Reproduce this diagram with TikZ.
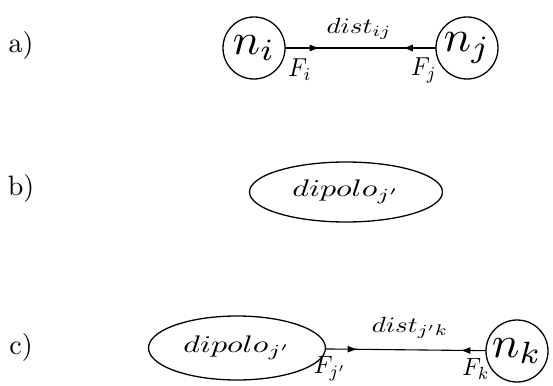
\documentclass[tikz,border=0pt]{standalone}
\usepackage{graphicx}
\usetikzlibrary{arrows.meta,decorations.markings,shapes.geometric}
\newcommand{\bigtxt}[3]{\scalebox{#1}[#2]{#3}}
\begin{document}
\begin{tikzpicture}[x=1pt,y=-1pt,
  every node/.style={inner sep=0pt,outer sep=0pt},
  nodecirc/.style={circle,draw,line width=1.3pt,minimum size=62pt},
  dip/.style={ellipse,draw,line width=1.3pt},
  conn/.style={line width=1.1pt},
  mytip/.tip={Latex[length=10pt,width=7pt]}
]
\useasboundingbox (0,0) rectangle (553,385);
% row labels
\node (la) at (21,46) {\bigtxt{2.8}{2.8}{a)}};
\node (lb) at (21,188) {\bigtxt{2.8}{2.8}{b)}};
\node (lc) at (21,347) {\bigtxt{2.8}{2.8}{c)}};
% row a
\node[nodecirc] (ni) at (254,48) {\bigtxt{4.6}{4.4}{$n_i$}};
\node[nodecirc] (nj) at (467,48) {\bigtxt{4.6}{4.4}{$n_j$}};
\draw[conn,postaction={decorate},decoration={markings,
   mark=at position 0.23 with {\arrow{mytip}},
   mark=at position 0.78 with {\arrowreversed{mytip}}}] (ni) -- (nj);
\node (dij) at (359,29) {\bigtxt{2.7}{2.2}{$dist_{ij}$}};
\node (fi) at (300,70) {\bigtxt{2.4}{2.6}{$F_i$}};
\node (fj) at (424,70) {\bigtxt{2.4}{2.6}{$F_j$}};
% row b
\node[dip,minimum width=193pt,minimum height=60pt] (db) at (346,192) {\bigtxt{3.2}{2.4}{$dipolo_{j'}$}};
% row c
\node[dip,minimum width=177pt,minimum height=64pt] (dc) at (237,348) {\bigtxt{3.2}{2.4}{$dipolo_{j'}$}};
\node[nodecirc] (nk) at (517,351) {\bigtxt{4.6}{4.4}{$n_k$}};
\draw[conn,postaction={decorate},decoration={markings,
   mark=at position 0.2 with {\arrow{mytip}},
   mark=at position 0.84 with {\arrowreversed{mytip}}}] (dc) -- (nk);
\node (djk) at (410,328) {\bigtxt{2.7}{2.2}{$dist_{j'k}$}};
\node (fjp) at (330,369) {\bigtxt{2.4}{2.5}{$F_{j'}$}};
\node (fk) at (476,369) {\bigtxt{2.4}{2.5}{$F_k$}};
\end{tikzpicture}
\end{document}
